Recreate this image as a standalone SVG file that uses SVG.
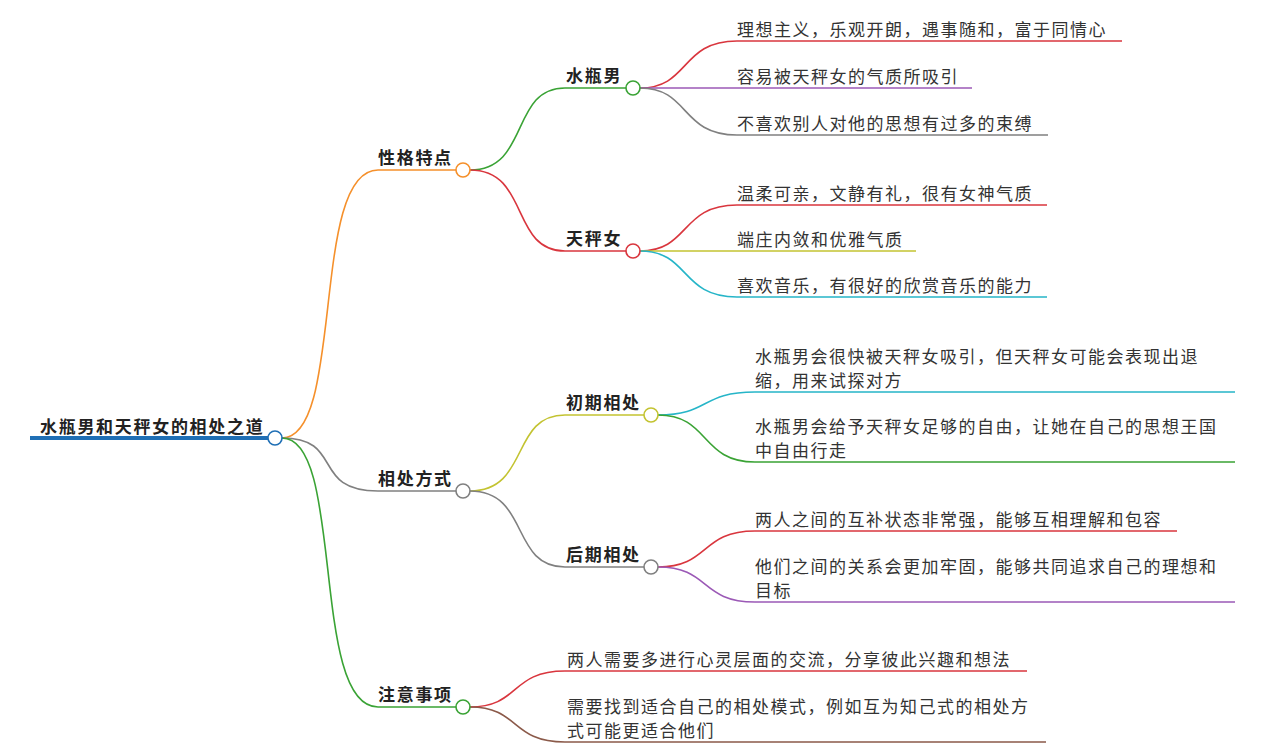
<svg xmlns="http://www.w3.org/2000/svg" width="1287" height="755" viewBox="0 0 1287 755">
<style>
text{font-family:"Noto Sans CJK SC","Noto Sans",sans-serif;fill:#333}
.b{font-weight:bold;font-size:17px;letter-spacing:1.7px;fill:#222}
.l{font-size:17px;letter-spacing:1.5px}
path{fill:none;stroke-width:1.6}
circle{fill:#fff;stroke-width:1.6}
</style>
<rect width="1287" height="755" fill="#fff"/>
<g id="connectors">
<path d="M282 438 C345 438 310 170 378 170 L456 170" stroke="#f5902b"/>
<path d="M282 438 C345 438 310 491 378 491 L456 491" stroke="#808080"/>
<path d="M282 438 C345 438 310 707 378 707 L456 707" stroke="#3aa335"/>
<path d="M470 170 C530 170 510 88 565 88 L626 88" stroke="#3aa335"/>
<path d="M470 170 C530 170 510 251 565 251 L626 251" stroke="#d9363e"/>
<path d="M470 491 C530 491 510 415 565 415 L644 415" stroke="#c3c331"/>
<path d="M470 491 C530 491 510 567 565 567 L644 567" stroke="#808080"/>
<path d="M640 88 C690 88 680 41 737 41 L1122 41" stroke="#d9363e"/>
<path d="M640 88 L972 88" stroke="#9b59b6"/>
<path d="M640 88 C690 88 680 135 737 135 L1048 135" stroke="#808080"/>
<path d="M640 251 C690 251 680 205 737 205 L1047 205" stroke="#d9363e"/>
<path d="M640 251 L916 251" stroke="#c3c331"/>
<path d="M640 251 C690 251 680 297 737 297 L1047 297" stroke="#26b5c8"/>
<path d="M658 415 C710 415 700 392 755 392 L1235 392" stroke="#26b5c8"/>
<path d="M658 415 C710 415 700 462 755 462 L1235 462" stroke="#3aa335"/>
<path d="M658 567 C710 567 700 531 755 531 L1177 531" stroke="#d9363e"/>
<path d="M658 567 C710 567 700 602 755 602 L1235 602" stroke="#9b59b6"/>
<path d="M470 707 C520 707 510 671 565 671 L1027 671" stroke="#d9363e"/>
<path d="M470 707 C520 707 510 742 565 742 L1046 742" stroke="#8b5a4a"/>
</g>
<g id="root"><line x1="30" y1="438" x2="268" y2="438" stroke="#1f6fb5" stroke-width="4"/><text class="b" x="40" y="433">水瓶男和天秤女的相处之道</text><circle cx="275" cy="438" r="7" stroke="#1f6fb5"/></g>
<g id="n1"><text class="b" x="378" y="164">性格特点</text><circle cx="463" cy="170" r="7" stroke="#f5902b"/></g>
<g id="n2"><text class="b" x="378" y="485">相处方式</text><circle cx="463" cy="491" r="7" stroke="#808080"/></g>
<g id="n3"><text class="b" x="378" y="701">注意事项</text><circle cx="463" cy="707" r="7" stroke="#3aa335"/></g>
<g id="n4"><text class="b" x="566" y="82">水瓶男</text><circle cx="633" cy="88" r="7" stroke="#3aa335"/></g>
<g id="n5"><text class="b" x="566" y="245">天秤女</text><circle cx="633" cy="251" r="7" stroke="#d9363e"/></g>
<g id="n6"><text class="b" x="566" y="409">初期相处</text><circle cx="651" cy="415" r="7" stroke="#c3c331"/></g>
<g id="n7"><text class="b" x="566" y="561">后期相处</text><circle cx="651" cy="567" r="7" stroke="#808080"/></g>
<g id="leaves">
<text class="l" x="737" y="36">理想主义，乐观开朗，遇事随和，富于同情心</text>
<text class="l" x="737" y="83">容易被天秤女的气质所吸引</text>
<text class="l" x="737" y="130">不喜欢别人对他的思想有过多的束缚</text>
<text class="l" x="737" y="200">温柔可亲，文静有礼，很有女神气质</text>
<text class="l" x="737" y="246">端庄内敛和优雅气质</text>
<text class="l" x="737" y="292">喜欢音乐，有很好的欣赏音乐的能力</text>
<text class="l" x="755" y="363">水瓶男会很快被天秤女吸引，但天秤女可能会表现出退</text>
<text class="l" x="755" y="387">缩，用来试探对方</text>
<text class="l" x="755" y="433">水瓶男会给予天秤女足够的自由，让她在自己的思想王国</text>
<text class="l" x="755" y="457">中自由行走</text>
<text class="l" x="755" y="526">两人之间的互补状态非常强，能够互相理解和包容</text>
<text class="l" x="755" y="573">他们之间的关系会更加牢固，能够共同追求自己的理想和</text>
<text class="l" x="755" y="597">目标</text>
<text class="l" x="567" y="666">两人需要多进行心灵层面的交流，分享彼此兴趣和想法</text>
<text class="l" x="567" y="713">需要找到适合自己的相处模式，例如互为知己式的相处方</text>
<text class="l" x="567" y="737">式可能更适合他们</text>
</g>
</svg>
